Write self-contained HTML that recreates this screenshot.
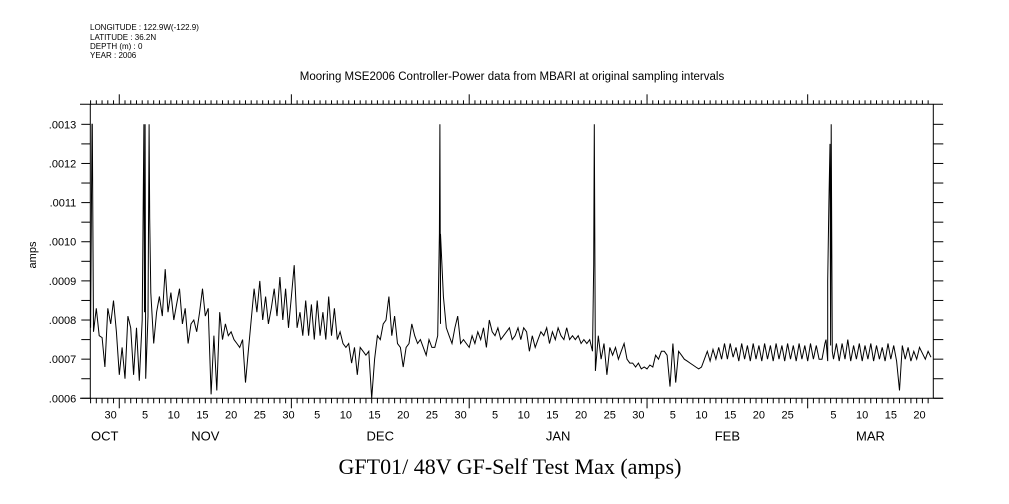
<!DOCTYPE html>
<html><head><meta charset="utf-8"><style>
body{margin:0;background:#fff;}
svg{display:block;font-family:"Liberation Sans",sans-serif;}
</style></head><body>
<svg id="c" width="1009" height="504">
<g font-size="8" fill="#000">
<text x="90" y="30">LONGITUDE : 122.9W(-122.9)</text>
<text x="90" y="40">LATITUDE : 36.2N</text>
<text x="90" y="49">DEPTH (m) : 0</text>
<text x="90" y="58">YEAR : 2006</text>
</g>
<text x="512" y="80" font-size="11.5" text-anchor="middle">Mooring MSE2006 Controller-Power data from MBARI at original sampling intervals</text>
<text x="0" y="0" font-size="11" text-anchor="middle" transform="translate(36,255) rotate(-90)">amps</text>
<text x="510" y="474" font-size="22" text-anchor="middle" font-family="Liberation Serif,serif">GFT01/ 48V GF-Self Test Max (amps)</text>
<g id="axes"></g>
<g id="plot"></g>
</svg>
<script>
const vals=[7.8,7.7,8.3,7.6,7.55,6.8,8.3,7.9,8.5,7.7,
6.6,7.3,6.5,8.1,7.8,6.6,7.8,6.45,8.0,8.4,
8.1,8.7,7.4,8.2,8.6,8.1,9.3,8.2,8.7,8.0,
8.4,8.8,7.9,8.3,7.4,7.9,8.0,7.7,8.2,8.8,
8.1,8.3,6.1,7.6,6.2,8.2,7.5,7.9,7.6,7.7,
7.5,7.4,7.3,7.5,6.4,7.2,8.0,8.8,8.2,9.0,
8.0,8.6,7.9,8.3,8.8,8.1,9.1,8.0,8.8,7.8,
8.6,9.4,7.8,8.2,7.6,8.5,7.6,8.4,7.5,8.5,
7.6,8.2,7.5,8.6,7.6,8.3,7.5,7.7,7.4,7.3,
7.4,6.9,7.3,6.6,7.3,7.2,7.1,7.2,6.0,7.0,
7.6,7.5,7.9,8.0,8.6,7.6,8.1,7.4,7.3,6.8,
7.3,7.4,7.9,7.6,7.4,7.5,7.3,7.1,7.5,7.3,
7.3,7.6,7.9,8.6,7.8,7.6,7.4,7.8,8.1,7.4,
7.5,7.4,7.3,7.6,7.4,7.7,7.5,7.8,7.3,8.0,
7.7,7.6,7.8,7.5,7.6,7.7,7.8,7.5,7.6,7.8,
7.5,7.8,7.7,7.2,7.6,7.3,7.5,7.7,7.6,7.8,
7.4,7.7,7.5,7.8,7.6,7.5,7.8,7.5,7.6,7.5,
7.6,7.4,7.5,7.4,7.5,7.2,6.7,7.6,7.0,7.4,
6.6,7.3,7.1,7.3,7.0,7.2,7.4,7.0,6.9,6.9,
6.8,6.9,6.75,6.8,6.75,6.85,6.8,7.1,7.0,7.2,
7.2,7.1,6.3,7.4,6.4,7.2,7.1,7.0,6.95,6.9,
6.85,6.8,6.75,6.8,7.0,7.2,6.95,7.25,7.0,7.3,
7.0,7.4,7.0,7.4,7.05,7.3,6.95,7.4,7.0,7.35,
6.95,7.4,7.0,7.35,6.95,7.4,7.0,7.35,6.95,7.4,
7.0,7.35,6.95,7.4,7.0,7.35,6.95,7.4,7.0,7.35,
6.95,7.4,7.0,7.35,7.0,7.0,7.4,6.95,7.35,7.0,
7.4,6.95,7.4,7.0,7.5,6.95,7.35,7.0,7.4,6.95,
7.35,7.0,7.4,6.95,7.35,7.0,7.3,6.95,7.4,7.0,
7.35,6.95,6.2,7.35,7.0,7.3,6.95,7.2,7.0,7.3,
7.15,7.0,7.2,7.05];
const startDay=-5, stepDay=0.5;
const spikeDays=[-4.75,-4.7,4.3,4.4,4.5,4.6,5.2,5.3,55.8,55.9,56.0,82.7,82.8,123.2,123.5,123.7,123.9,124.1,124.3];
const spikeVals=[13,13,13,8.2,13,6.5,13,10.6,10.2,13,10.2,9.4,13,7.5,9,11,12.5,13,7.2];
const yTicks=[6,7,8,9,10,11,12,13];
const yTickLabels=[".0006",".0007",".0008",".0009",".0010",".0011",".0012",".0013"];
const monthStarts=[0,30,61,92,120];
const monthNames=["OCT","NOV","DEC","JAN","FEB","MAR"];
const dayLabels=[[-2,"30"],[4,"5"],[9,"10"],[14,"15"],[19,"20"],[24,"25"],[29,"30"],[34,"5"],[39,"10"],[44,"15"],[49,"20"],[54,"25"],[59,"30"],[65,"5"],[70,"10"],[75,"15"],[80,"20"],[85,"25"],[90,"30"],[96,"5"],[101,"10"],[106,"15"],[111,"20"],[116,"25"],[124,"5"],[129,"10"],[134,"15"],[139,"20"]];
const X0=90.3,X1=933.3,Y0=104.3,Y1=398.3,DMIN=-5.05,DMAX=141.9;
const xs=d=>X0+(d-DMIN)/(DMAX-DMIN)*(X1-X0);
const ys=v=>398.3-(v-6)*39.14;
const NS="http://www.w3.org/2000/svg";
const ax=document.getElementById('axes'),pl=document.getElementById('plot');
function ln(g,x1,y1,x2,y2,name,w){const l=document.createElementNS(NS,'line');l.setAttribute('x1',x1);l.setAttribute('y1',y1);l.setAttribute('x2',x2);l.setAttribute('y2',y2);l.setAttribute('stroke','#000');l.setAttribute('stroke-width',w||1);


g.appendChild(l);}
function tx(x,y,s,name,size,anchor){const t=document.createElementNS(NS,'text');t.setAttribute('x',x);t.setAttribute('y',y);t.setAttribute('font-size',size);t.setAttribute('text-anchor',anchor);t.textContent=s;


ax.appendChild(t);}
ln(ax,80,Y0,943,Y0,'top-axis');ln(ax,80,Y1,943,Y1,'bottom-axis');
ln(ax,X0,Y0,X0,Y1,'left-axis');ln(ax,X1,Y0,X1,Y1,'right-axis');
for(let v=6;v<=13.001;v+=0.5){const y=ys(v);ln(ax,X0-9,y,X0,y,'y-tick');ln(ax,X1,y,X1+10,y,'y-tick-right');}
yTicks.forEach((v,i)=>tx(X0-14,ys(v)+4,yTickLabels[i],'y-tick-label',11,'end'));
for(let d=-5;d<=141;d++){const x=xs(d);if(x<X0||x>X1)continue;const big=monthStarts.includes(d);
ln(ax,x,Y1,x,Y1+(big?10:5),big?'month-tick':'day-tick');ln(ax,x,Y0,x,Y0-(big?10:4),big?'month-tick-top':'day-tick-top');}
dayLabels.forEach(p=>tx(xs(p[0]+0.5),Y1+20,p[1],'x-tick-label',11,'middle'));
const bounds=[DMIN].concat(monthStarts,[DMAX]);
monthNames.forEach((m,i)=>tx((xs(bounds[i])+xs(bounds[i+1]))/2,Y1+42,m,'month-label',13,'middle'));
let pts=vals.map((v,i)=>[startDay+i*stepDay,v]);
spikeDays.forEach((d,i)=>pts.push([d,spikeVals[i]]));
pts.sort((a,b)=>a[0]-b[0]);
const path=document.createElementNS(NS,'path');
path.setAttribute('d',pts.map((p,i)=>(i?'L':'M')+xs(p[0]).toFixed(1)+' '+ys(p[1]).toFixed(1)).join(''));
path.setAttribute('fill','none');path.setAttribute('stroke','#000');path.setAttribute('stroke-width','1');


pl.appendChild(path);
</script>
</body></html>
